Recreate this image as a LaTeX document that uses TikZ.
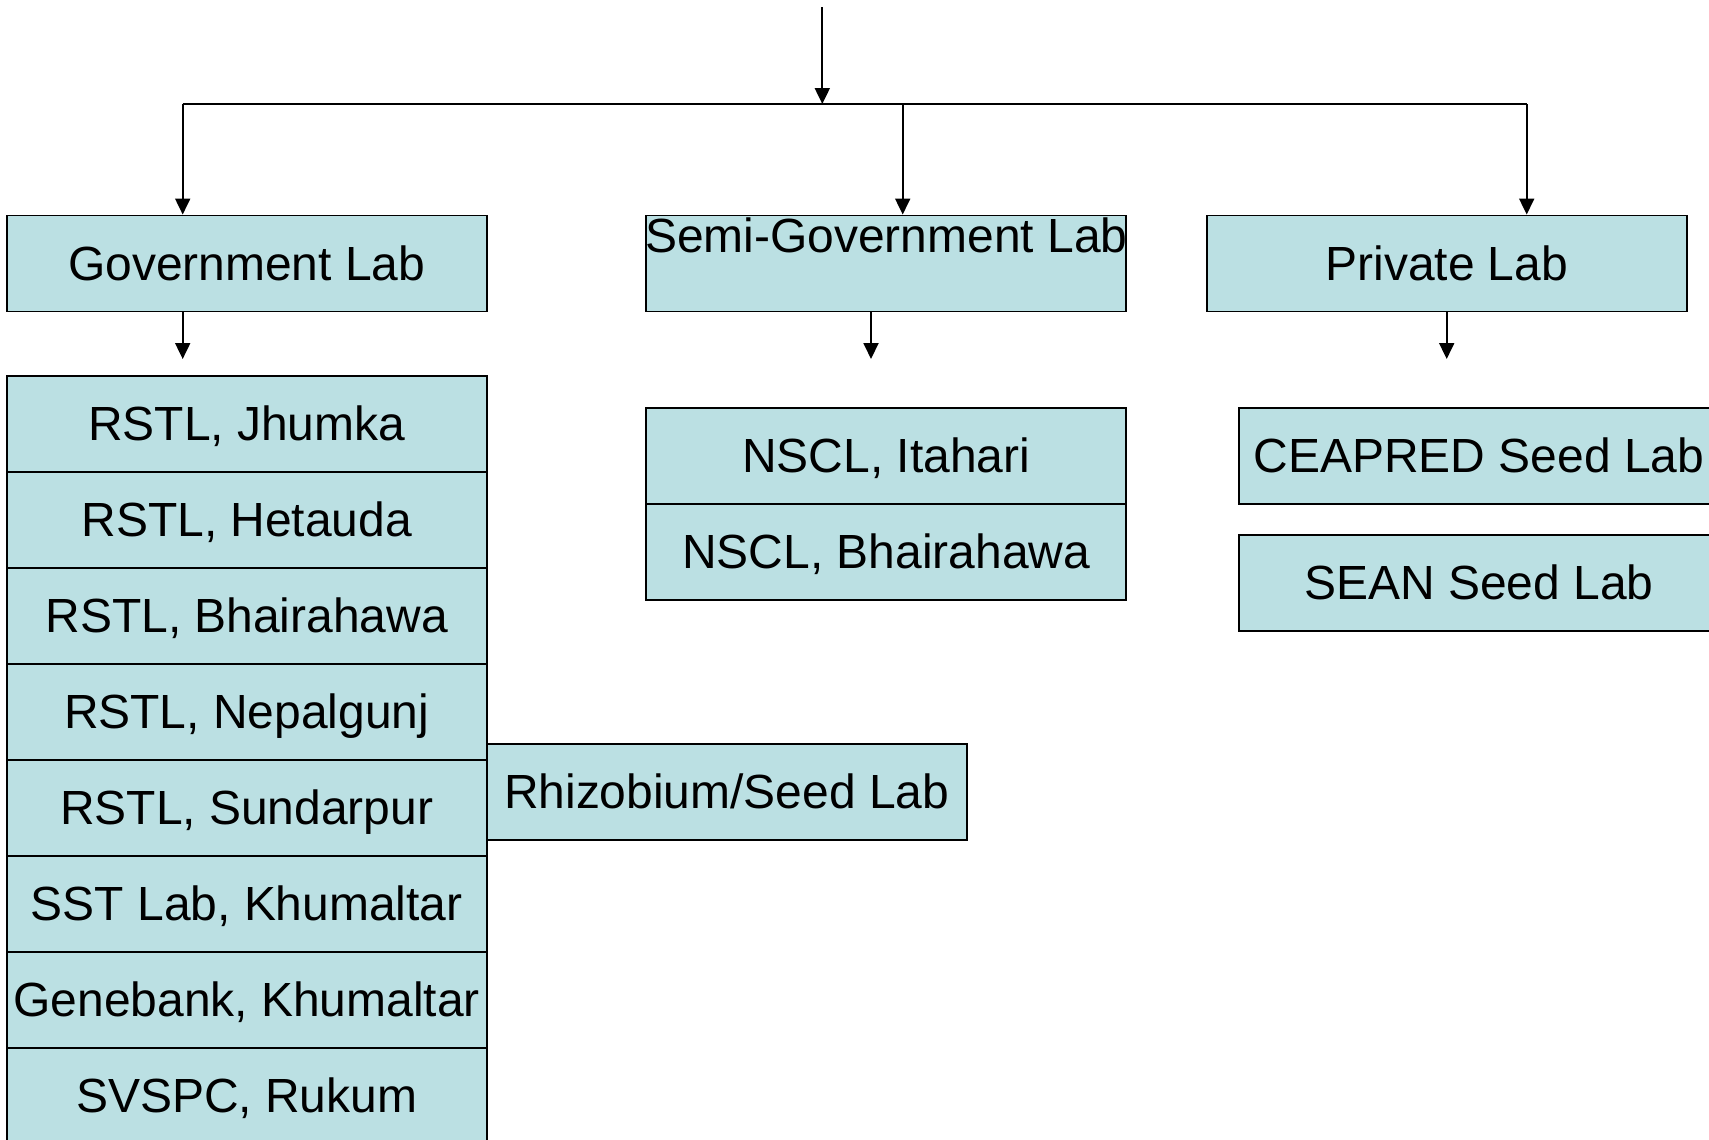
\documentclass[tikz,border=0pt]{standalone}
\usepackage{fontspec}
\setmainfont{Liberation Sans}
\usepackage{tikz}
\usetikzlibrary{arrows.meta, positioning}
\usepackage{xcolor}
\definecolor{labfill}{RGB}{187,224,227}

\begin{document}
\begin{tikzpicture}[
    x=0.02cm, y=-0.02cm,
    labbox/.style = {rectangle, draw=black, fill=labfill, line width=1.1pt, inner sep=0pt, minimum width=9.6cm, minimum height=1.92cm, text height=19pt, text depth=0pt, font=\fontsize{27.3}{32}\selectfont},
    labtext/.style = {inner sep=0pt, font=\fontsize{27.3}{32}\selectfont},
    link/.style = {draw=black, line width=1.1pt},
    arrow/.style = {draw=black, line width=1.1pt, -{Triangle[width=0.3cm, length=0.32cm]}}
]
\useasboundingbox (0,0) rectangle (1709,1139);

% Top level
\node (gov) [labbox] at (246.7, 263.5) {Government Lab};
\node (semi) [labbox, label={[labtext, anchor=north, yshift=-0.06cm]north:Semi-Government Lab}] at (886.3, 263.5) {};
\node (priv) [labbox] at (1446.7, 263.5) {Private Lab};

% Government labs
\node (jhumka) [labbox] at (246.7, 424) {RSTL, Jhumka};
\node (hetauda) [labbox] at (246.7, 520) {RSTL, Hetauda};
\node (bhairahawa) [labbox] at (246.7, 616) {RSTL, Bhairahawa};
\node (nepalgunj) [labbox] at (246.7, 712) {RSTL, Nepalgunj};
\node (sundarpur) [labbox] at (246.7, 808) {RSTL, Sundarpur};
\node (sstlab) [labbox] at (246.7, 904) {SST Lab, Khumaltar};
\node (genebank) [labbox] at (246.7, 1000) {Genebank, Khumaltar};
\node (svspc) [labbox] at (246.7, 1096) {SVSPC, Rukum};
\node (rhizobium) [labbox] at (726.7, 792) {Rhizobium/Seed Lab};

% Semi-government labs
\node (itahari) [labbox] at (886.3, 455.7) {NSCL, Itahari};
\node (nsclbhai) [labbox] at (886.3, 551.7) {NSCL, Bhairahawa};

% Private labs
\node (ceapred) [labbox] at (1479, 455.7) {CEAPRED Seed Lab};
\node (sean) [labbox] at (1479, 583) {SEAN Seed Lab};

% Branches
\coordinate (top) at (822.3, 7);
\coordinate (split) at (822.3, 104);
\coordinate (leftend) at (182.7, 104);
\coordinate (midend) at (902.7, 104);
\coordinate (rightend) at (1526.7, 104);
\draw [arrow] (top) -- (split);
\draw [link] (leftend) -- (rightend);
\draw [arrow] (leftend) -- (leftend |- gov.north);
\draw [arrow] (midend) -- (midend |- semi.north);
\draw [arrow] (rightend) -- (rightend |- priv.north);

% Arrows below
\coordinate (govtip) at (182.7, 359);
\coordinate (semitip) at (871, 359);
\coordinate (privtip) at (1446.7, 359);
\draw [arrow] (gov.south -| govtip) -- (govtip);
\draw [arrow] (semi.south -| semitip) -- (semitip);
\draw [arrow] (priv.south -| privtip) -- (privtip);

\end{tikzpicture}
\end{document}
